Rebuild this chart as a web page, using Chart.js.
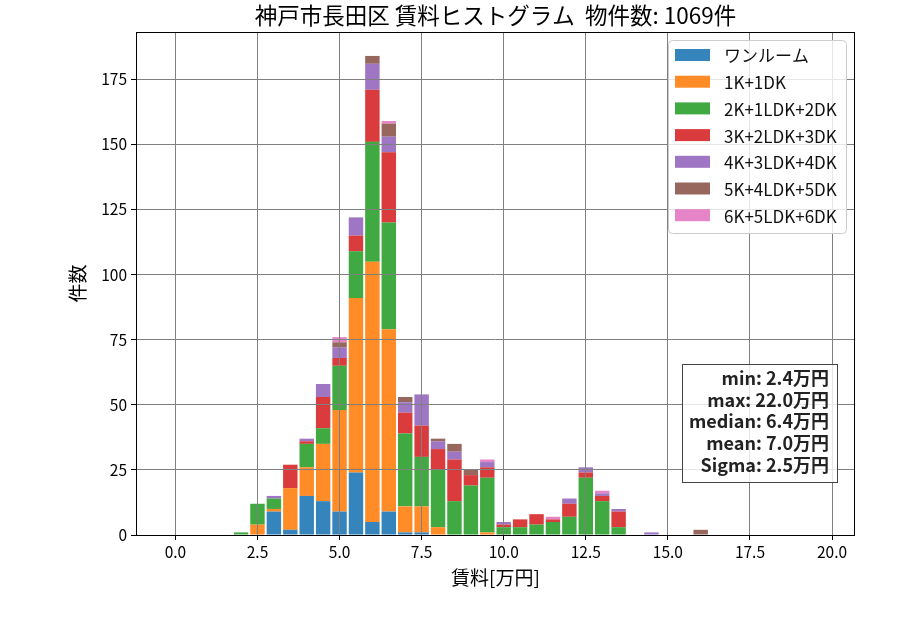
<!DOCTYPE html>
<html lang="ja">
<head>
<meta charset="utf-8">
<title>神戸市長田区 賃料ヒストグラム</title>
<script src="https://cdn.jsdelivr.net/npm/chart.js@4.4.1/dist/chart.umd.min.js"></script>
<style>
  html, body { margin: 0; padding: 0; background: #fff; }
  canvas { display: block; }
</style>
</head>
<body>
<canvas id="rentChart" width="900" height="630"></canvas>
<script>
// --- DATA (bin centres in 万円, bin width 0.5) ---
const binCenters = [2.0, 2.5, 3.0, 3.5, 4.0, 4.5, 5.0, 5.5, 6.0, 6.5,
                    7.0, 7.5, 8.0, 8.5, 9.0, 9.5, 10.0, 10.5, 11.0, 11.5,
                    12.0, 12.5, 13.0, 13.5, 14.0, 14.5, 15.0, 15.5, 16.0];

const countOneRoom = [0, 0, 9, 2, 15, 13, 9, 24, 5, 9, 1, 1, 0, 0, 0, 0, 0, 0, 0, 0, 0, 0, 0, 0, 0, 0, 0, 0, 0];
const count1K      = [0, 4, 1, 16, 11, 22, 39, 67, 100, 70, 10, 10, 3, 0, 0, 1, 0, 0, 0, 0, 0, 0, 0, 0, 0, 0, 0, 0, 0];
const count2K      = [1, 8, 4, 0, 9, 6, 17, 18, 46, 41, 28, 19, 22, 13, 19, 21, 3, 3, 4, 5, 7, 22, 13, 3, 0, 0, 0, 0, 0];
const count3K      = [0, 0, 0, 9, 1, 12, 3, 6, 20, 27, 8, 12, 8, 16, 4, 4, 1, 3, 4, 1, 5, 2, 2, 6, 0, 0, 0, 0, 0];
const count4K      = [0, 0, 1, 0, 1, 5, 4, 7, 10, 6, 4, 12, 3, 3, 0, 2, 1, 0, 0, 0, 2, 2, 1, 1, 0, 1, 0, 0, 0];
const count5K      = [0, 0, 0, 0, 0, 0, 2, 0, 3, 5, 2, 0, 1, 3, 2, 0, 0, 0, 0, 0, 0, 0, 0, 0, 0, 0, 0, 0, 2];
const count6K      = [0, 0, 0, 0, 0, 0, 2, 0, 0, 1, 0, 0, 0, 0, 0, 1, 0, 0, 0, 1, 0, 0, 1, 0, 0, 0, 0, 0, 0];

const layoutNames = ['ワンルーム', '1K+1DK', '2K+1LDK+2DK', '3K+2LDK+3DK', '4K+3LDK+4DK', '5K+4LDK+5DK', '6K+5LDK+6DK'];
const layoutCounts = [countOneRoom, count1K, count2K, count3K, count4K, count5K, count6K];

const xTicks = [0, 2.5, 5, 7.5, 10, 12.5, 15, 17.5, 20];
const yTicks = [0, 25, 50, 75, 100, 125, 150, 175];

const statLines = ['min: 2.4万円', 'max: 22.0万円', 'median: 6.4万円', 'mean: 7.0万円', 'Sigma: 2.5万円'];
const chartTitle = '神戸市長田区 賃料ヒストグラム  物件数: 1069件';

// --- STYLE ---
const FONT = "'Noto Sans CJK JP', 'Noto Sans', sans-serif";
const layoutColors = [
    'rgba(31, 119, 180, 0.9)',
    'rgba(255, 127, 14, 0.9)',
    'rgba(44, 160, 44, 0.9)',
    'rgba(214, 39, 40, 0.9)',
    'rgba(148, 103, 189, 0.9)',
    'rgba(140, 86, 75, 0.9)',
    'rgba(227, 119, 194, 0.9)'
];

const datasets = layoutNames.map((name, i) => ({
    label: name,
    data: binCenters.map((x, j) => ({ x: x, y: layoutCounts[i][j] })),
    backgroundColor: layoutColors[i],
    borderWidth: 0,
    categoryPercentage: 1.0,
    barPercentage: 0.88
}));

// title, frame, legend box and stats box drawn on top of the plot
const overlayPlugin = {
    id: 'overlay',
    afterDraw(chart) {
        const { ctx, chartArea: a } = chart;
        ctx.save();

        // title centred over the plot area
        ctx.fillStyle = '#000';
        ctx.font = '22.5px ' + FONT;
        ctx.textAlign = 'center';
        ctx.textBaseline = 'middle';
        ctx.fillText(chartTitle, (a.left + a.right) / 2, a.top - 17);

        // axes frame
        ctx.strokeStyle = '#000';
        ctx.lineWidth = 1;
        ctx.strokeRect(a.left + 0.5, a.top + 0.5, a.right - a.left - 1, a.bottom - a.top);

        // legend
        const lx = a.right - 187, ly = a.top + 8, lw = 178, lh = 193;
        ctx.beginPath();
        ctx.roundRect(lx + 0.5, ly + 0.5, lw, lh, 4);
        ctx.fillStyle = 'rgba(255, 255, 255, 0.8)';
        ctx.fill();
        ctx.strokeStyle = '#cccccc';
        ctx.stroke();
        ctx.font = '17px ' + FONT;
        ctx.textBaseline = 'middle';
        ctx.textAlign = 'left';
        chart.data.datasets.forEach((ds, i) => {
            const rowY = ly + 15 + i * 26.7;
            ctx.fillStyle = ds.backgroundColor;
            ctx.fillRect(lx + 7, rowY - 6, 35, 12);
            ctx.fillStyle = '#111';
            ctx.fillText(ds.label, lx + 56, rowY + 1);
        });

        // stats box
        ctx.font = 'bold 18px ' + FONT;
        const textRight = a.right - 26;
        const firstY = a.top + 346;
        const step = 21.7;
        const maxW = Math.max(...statLines.map(s => ctx.measureText(s).width));
        const bx = Math.round(textRight - maxW - 7), by = firstY - 14;
        const bw = Math.round(textRight + 8 - bx), bh = Math.round(step * (statLines.length - 1) + 31);
        ctx.fillStyle = 'rgba(255, 255, 255, 0.8)';
        ctx.fillRect(bx + 0.5, by + 0.5, bw, bh);
        ctx.strokeStyle = '#444';
        ctx.strokeRect(bx + 0.5, by + 0.5, bw, bh);
        ctx.fillStyle = '#222';
        ctx.textAlign = 'right';
        statLines.forEach((s, i) => ctx.fillText(s, textRight, firstY + i * step));

        ctx.restore();
    }
};

new Chart(document.getElementById('rentChart'), {
    type: 'bar',
    data: { datasets: datasets },
    options: {
        responsive: false,
        animation: false,
        layout: { padding: { left: 0, right: 45, top: 32, bottom: 0 } },
        plugins: {
            legend: { display: false },
            tooltip: { enabled: false },
            title: { display: false }
        },
        scales: {
            x: {
                type: 'linear',
                stacked: true,
                offset: false,
                min: -1.2,
                max: 20.7,
                afterFit: s => { s.height = 95; },
                afterBuildTicks: s => { s.ticks = xTicks.map(v => ({ value: v })); },
                grid: { color: '#808080', lineWidth: 1, z: 1, offset: false, tickLength: 5, tickColor: '#000' },
                border: { display: false },
                ticks: {
                    color: '#000',
                    font: { family: FONT, size: 15.5 },
                    padding: 3,
                    maxRotation: 0,
                    callback: v => Number(v).toFixed(1)
                },
                title: {
                    display: true,
                    text: '賃料[万円]',
                    color: '#000',
                    font: { family: FONT, size: 19 },
                    padding: { top: 0, bottom: 41 }
                }
            },
            y: {
                stacked: true,
                min: 0,
                max: 193.2,
                afterFit: s => { s.width = 136; },
                afterBuildTicks: s => { s.ticks = yTicks.map(v => ({ value: v })); },
                grid: { color: '#808080', lineWidth: 1, z: 1, tickLength: 5, tickColor: '#000' },
                border: { display: false },
                ticks: {
                    color: '#000',
                    font: { family: FONT, size: 15.5 },
                    padding: 4
                },
                title: {
                    display: true,
                    text: '件数',
                    color: '#000',
                    font: { family: FONT, size: 19 },
                    padding: { top: 66, bottom: 0 }
                }
            }
        }
    },
    plugins: [overlayPlugin]
});
</script>
</body>
</html>
